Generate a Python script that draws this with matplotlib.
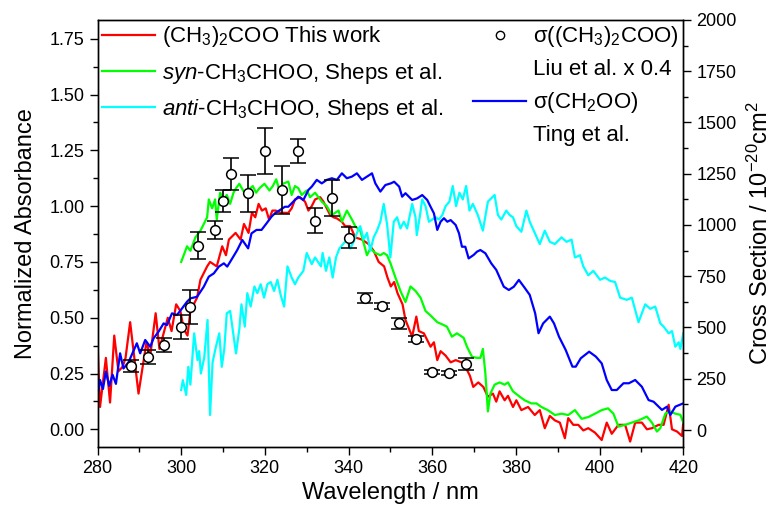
import numpy as np
import matplotlib.pyplot as plt
from matplotlib.lines import Line2D
from matplotlib.ticker import MultipleLocator, FormatStrFormatter

plt.rcParams['font.family'] = ['Liberation Sans', 'DejaVu Sans']
plt.rcParams['mathtext.fontset'] = 'custom'
plt.rcParams['mathtext.rm'] = 'Liberation Sans'
plt.rcParams['mathtext.it'] = 'Liberation Sans:italic'
plt.rcParams['mathtext.default'] = 'regular'

# (CH3)2COO, this work (normalized absorbance)
red_wl = [280.0, 280.6, 282.0, 283.0, 284.0, 285.0, 286.0, 286.7, 287.8, 289.8, 291.7, 292.6, 293.9, 294.8,
          296.8, 297.7, 298.8, 299.8, 300.6, 301.5, 302.2, 303.8, 304.6, 306.2, 306.9, 308.5, 309.8, 310.7,
          311.4, 313.0, 314.2, 315.0, 316.1, 316.9, 317.7, 318.5, 319.3, 320.2, 321.0, 321.8, 322.6, 323.8,
          325.0, 325.6, 326.4, 327.2, 328.4, 329.6, 330.4, 331.2, 332.0, 333.2, 334.0, 335.6, 336.4, 337.2,
          338.4, 339.2, 340.4, 341.6, 343.2, 344.8, 346.0, 347.2, 348.5, 349.3, 350.1, 350.9, 351.7, 352.9,
          353.6, 355.2, 356.2, 356.8, 358.0, 359.6, 360.4, 361.2, 362.0, 363.2, 364.4, 365.6, 367.0, 368.2,
          369.0, 369.8, 371.0, 372.2, 373.3, 374.5, 375.3, 376.1, 377.3, 378.1, 379.3, 380.1, 381.3, 382.9,
          384.5, 385.7, 386.9, 388.1, 389.3, 390.5, 391.7, 392.5, 393.7, 394.9, 396.1, 397.3, 398.9, 400.5,
          401.7, 402.9, 404.5, 406.1, 407.3, 408.5, 410.1, 411.3, 412.5, 414.1, 415.3, 416.5, 417.3, 418.5,
          419.7, 420.0]
red_abs = [0.39, 0.10, 0.32, 0.12, 0.42, 0.26, 0.28, 0.32, 0.48, 0.16, 0.39, 0.33, 0.52, 0.36,
           0.50, 0.44, 0.56, 0.53, 0.45, 0.42, 0.53, 0.59, 0.67, 0.73, 0.75, 0.73, 0.82, 0.78,
           0.85, 0.88, 0.85, 0.92, 0.88, 0.97, 0.95, 1.01, 0.98, 0.99, 0.94, 0.98, 0.98, 0.97,
           0.97, 0.97, 0.99, 1.03, 1.04, 1.02, 0.98, 1.00, 1.03, 1.04, 1.02, 0.96, 0.95, 0.945,
           0.93, 0.91, 0.91, 0.86, 0.85, 0.83, 0.80, 0.75, 0.73, 0.68, 0.64, 0.66, 0.61, 0.56,
           0.49, 0.415, 0.505, 0.44, 0.43, 0.37, 0.39, 0.31, 0.35, 0.33, 0.30, 0.31, 0.30, 0.27,
           0.24, 0.19, 0.21, 0.19, 0.146, 0.16, 0.124, 0.17, 0.13, 0.15, 0.10, 0.13, 0.086, 0.10,
           0.064, 0.086, 0.005, 0.06, 0.04, 0.03, -0.04, 0.05, 0.02, 0.02, -0.005, 0.005, -0.015, -0.048,
           0.03, -0.02, 0.02, 0.02, -0.055, 0.03, 0.03, 0.0, 0.005, 0.02, 0.02, 0.11, 0.0, -0.01,
           -0.03, 0.03]

# syn-CH3CHOO, Sheps et al.
green_wl = [300.0, 301.4, 302.2, 303.4, 304.6, 305.4, 306.2, 306.6, 307.4, 308.1, 308.5, 309.3, 310.1, 310.9,
            311.7, 312.5, 313.1, 313.9, 315.1, 315.9, 317.1, 317.9, 318.7, 319.9, 321.1, 321.9, 322.7, 323.5,
            324.3, 325.6, 326.4, 327.2, 328.0, 328.8, 330.0, 330.8, 332.0, 333.6, 334.8, 336.0, 337.6, 338.4,
            339.6, 340.8, 341.6, 342.8, 344.4, 345.2, 346.4, 347.6, 348.4, 349.2, 350.0, 351.2, 352.4, 353.6,
            354.8, 356.0, 357.2, 358.4, 359.6, 361.2, 362.4, 363.5, 364.7, 365.9, 367.5, 368.3, 369.5, 370.7,
            371.5, 372.1, 372.7, 373.3, 373.9, 374.9, 376.1, 377.3, 378.1, 379.3, 380.9, 382.1, 383.7, 384.9,
            386.1, 387.7, 389.3, 390.9, 392.5, 394.1, 395.7, 397.3, 398.9, 400.5, 402.0, 403.3, 404.5, 406.1,
            407.7, 409.3, 411.3, 412.5, 413.7, 414.5, 415.7, 416.9, 418.1, 419.3, 420.0]
green_abs = [0.75, 0.82, 0.80, 0.86, 0.89, 0.92, 0.95, 1.03, 0.99, 1.03, 0.94, 1.06, 1.03, 1.05,
             1.01, 1.06, 1.08, 1.10, 1.06, 1.07, 1.09, 1.06, 1.08, 1.10, 1.07, 1.09, 1.12, 1.07,
             1.10, 1.11, 1.05, 1.09, 1.08, 1.05, 1.07, 1.04, 1.06, 1.02, 1.00, 0.96, 0.98, 0.93,
             0.98, 0.94, 0.91, 0.89, 0.78, 0.81, 0.79, 0.78, 0.79, 0.78, 0.745, 0.68, 0.62, 0.57,
             0.64, 0.62, 0.59, 0.53, 0.51, 0.48, 0.47, 0.46, 0.415, 0.43, 0.41, 0.37, 0.325, 0.32,
             0.32, 0.36, 0.25, 0.08, 0.16, 0.20, 0.21, 0.20, 0.21, 0.17, 0.146, 0.13, 0.116, 0.116,
             0.10, 0.085, 0.064, 0.07, 0.064, 0.086, 0.047, 0.055, 0.07, 0.086, 0.094, 0.07, 0.012, 0.02,
             0.03, 0.04, 0.057, 0.03, -0.01, 0.005, 0.07, 0.08, 0.07, 0.065, 0.03]

# anti-CH3CHOO, Sheps et al.
cyan_wl = [300.0, 300.4, 301.2, 301.7, 302.2, 303.1, 303.9, 304.3, 304.7, 305.5, 306.3, 306.9, 307.5, 308.3,
           309.1, 309.7, 310.3, 310.9, 311.7, 312.3, 313.1, 313.9, 314.4, 315.2, 315.8, 316.6, 317.5, 318.2,
           319.0, 319.8, 320.6, 321.4, 322.2, 323.0, 323.8, 324.6, 325.4, 326.4, 327.2, 328.0, 329.2, 330.0,
           331.2, 332.0, 333.4, 333.8, 334.6, 335.4, 336.2, 337.0, 337.8, 339.6, 340.4, 341.2, 342.0, 342.8,
           343.6, 344.4, 345.2, 346.0, 346.8, 347.6, 348.4, 349.2, 350.0, 350.8, 351.6, 352.4, 353.2, 354.0,
           355.2, 356.0, 356.3, 357.0, 357.6, 358.4, 359.2, 360.0, 360.8, 361.6, 362.4, 363.2, 364.1, 364.9,
           365.7, 366.5, 367.3, 368.1, 368.9, 369.7, 370.9, 372.1, 373.3, 374.9, 375.7, 376.5, 377.7, 378.5,
           379.3, 380.1, 381.3, 382.5, 383.3, 384.5, 385.7, 386.9, 388.1, 389.3, 390.9, 392.1, 393.3, 394.1,
           395.3, 396.1, 397.3, 398.5, 400.1, 401.3, 402.5, 403.7, 404.9, 406.5, 407.7, 409.3, 410.9, 412.1,
           413.3, 414.5, 415.3, 416.5, 417.3, 418.1, 418.9, 419.3, 420.0]
cyan_abs = [0.176, 0.22, 0.154, 0.28, 0.20, 0.43, 0.31, 0.35, 0.25, 0.32, 0.49, 0.064, 0.30, 0.37,
            0.43, 0.28, 0.36, 0.52, 0.53, 0.45, 0.34, 0.45, 0.56, 0.46, 0.61, 0.55, 0.64, 0.61,
            0.65, 0.59, 0.65, 0.66, 0.62, 0.67, 0.60, 0.55, 0.73, 0.68, 0.65, 0.68, 0.71, 0.79,
            0.74, 0.77, 0.73, 0.79, 0.71, 0.77, 0.68, 0.77, 0.81, 0.85, 0.81, 0.84, 0.88, 0.91,
            0.85, 0.88, 0.80, 0.86, 0.89, 0.93, 1.01, 0.92, 0.77, 0.93, 0.95, 0.90, 0.93, 0.90,
            1.01, 0.95, 0.87, 0.95, 1.03, 1.00, 0.93, 0.94, 0.95, 0.94, 0.96, 1.00, 1.02, 1.09,
            1.00, 1.06, 1.03, 1.09, 0.98, 1.01, 0.96, 0.89, 1.02, 1.05, 0.96, 0.94, 0.98, 0.96,
            0.95, 0.91, 0.885, 0.98, 0.93, 0.88, 0.83, 0.89, 0.84, 0.83, 0.86, 0.84, 0.85, 0.77,
            0.78, 0.73, 0.69, 0.71, 0.67, 0.68, 0.665, 0.66, 0.59, 0.58, 0.59, 0.48, 0.56, 0.54,
            0.55, 0.475, 0.46, 0.43, 0.44, 0.37, 0.39, 0.36, 0.43]

# sigma(CH2OO), Ting et al. (10^-20 cm^2)
blue_wl = [280.0, 280.6, 281.3, 282.0, 282.8, 283.6, 284.4, 285.4, 286.2, 287.4, 289.4, 290.2, 291.4, 292.6,
           293.4, 294.6, 295.8, 296.6, 297.8, 299.0, 300.2, 301.4, 302.2, 303.8, 305.4, 306.6, 307.8, 309.0,
           310.2, 311.0, 312.2, 313.4, 314.6, 316.0, 316.8, 318.0, 319.2, 320.4, 321.6, 322.4, 323.6, 324.8,
           325.6, 326.8, 328.0, 329.2, 330.4, 331.2, 332.4, 333.6, 334.8, 336.0, 337.2, 338.4, 339.6, 340.8,
           342.0, 343.2, 344.4, 345.6, 346.4, 347.6, 348.8, 350.1, 350.9, 352.1, 352.8, 353.6, 355.2, 356.4,
           357.6, 358.8, 359.6, 360.4, 361.2, 362.0, 362.8, 363.6, 364.4, 365.6, 366.4, 367.1, 367.9, 368.7,
           369.9, 370.7, 371.5, 372.7, 374.1, 375.3, 377.1, 378.3, 379.5, 380.7, 381.9, 383.3, 384.6, 385.4,
           386.5, 388.1, 389.1, 390.3, 391.9, 393.5, 394.3, 395.5, 397.5, 399.1, 400.5, 401.7, 402.9, 404.1,
           405.7, 407.0, 408.5, 410.1, 411.7, 412.9, 414.1, 414.9, 416.1, 416.9, 418.1, 420.0]
blue_sig = [162, 244, 200, 285, 215, 270, 225, 374, 300, 330, 423, 374, 439, 406,
            447, 480, 520, 512, 569, 561, 593, 626, 642, 650, 699, 748, 764, 797,
            813, 797, 837, 878, 927, 886, 959, 976, 976, 1008, 1041, 1057, 1073, 1089,
            1089, 1114, 1138, 1122, 1171, 1187, 1220, 1203, 1220, 1228, 1220, 1252, 1228, 1236,
            1252, 1220, 1236, 1252, 1203, 1163, 1195, 1203, 1211, 1187, 1138, 1155, 1122, 1130,
            1146, 1122, 1089, 1057, 976, 1016, 1033, 1016, 1024, 1000, 959, 894, 894, 837,
            854, 870, 878, 862, 813, 781, 699, 683, 699, 732, 699, 659, 569, 472,
            520, 553, 520, 455, 390, 309, 309, 350, 382, 358, 325, 244, 195, 195,
            228, 228, 244, 211, 146, 138, 114, 98, 114, 73, 114, 130]

# sigma((CH3)2COO), Liu et al. x 0.4
liu_wl = [288, 292, 296, 300, 302, 304, 308, 310, 312, 316, 320, 324, 328, 332, 336, 340, 344, 348, 352,
          356, 360, 364, 368]
liu_sig = [312, 355, 415, 504, 601, 898, 976, 1117, 1250, 1155, 1362, 1171, 1362, 1021, 1133, 938, 645,
           606, 520, 442, 285, 280, 322]
liu_err = [29, 34, 36, 59, 83, 66, 42, 55, 79, 91, 112, 118, 59, 60, 88, 50, 24, 15, 27,
           15, 10, 10, 30]

fig = plt.figure(figsize=(7.72, 5.15), dpi=100)
ax1 = fig.add_axes([0.1263, 0.1326, 0.7588, 0.8286])
ax2 = ax1.twinx()

ax1.plot(red_wl, red_abs, color='#ff0000', lw=1.6, label='(CH$_3$)$_2$COO This work')
ax1.plot(green_wl, green_abs, color='#00ff00', lw=1.6, label='$\\mathit{syn}$-CH$_3$CHOO, Sheps et al.')
ax1.plot(cyan_wl, cyan_abs, color='#00ffff', lw=1.6, label='$\\mathit{anti}$-CH$_3$CHOO, Sheps et al.')

ax2.plot(blue_wl, blue_sig, color='#0000ff', lw=1.6)
ax2.errorbar(liu_wl, liu_sig, yerr=liu_err, fmt='o', mfc='white', mec='black', ms=7, mew=1.1,
             ecolor='black', elinewidth=1.2, capsize=6, capthick=1.2, zorder=5)

ax1.set_xlim(280, 420)
ax1.set_ylim(-0.078, 1.834)
ax2.set_ylim(-81.5, 2000)

ax1.xaxis.set_major_locator(MultipleLocator(20))
ax1.xaxis.set_minor_locator(MultipleLocator(10))
ax1.yaxis.set_major_locator(MultipleLocator(0.25))
ax1.yaxis.set_minor_locator(MultipleLocator(0.125))
ax1.yaxis.set_major_formatter(FormatStrFormatter('%.2f'))
ax2.yaxis.set_major_locator(MultipleLocator(250))
ax2.yaxis.set_minor_locator(MultipleLocator(125))

for ax in (ax1, ax2):
    for sp in ax.spines.values():
        sp.set_linewidth(1.0)
    ax.tick_params(which='major', direction='out', length=6, width=1.0, labelsize=13)
    ax.tick_params(which='minor', direction='out', length=3.5, width=1.0)
ax1.tick_params(which='both', top=False, right=False)
ax2.tick_params(which='both', left=False, top=False, right=True)

ax1.set_xlabel('Wavelength / nm', fontsize=17)
ax1.set_ylabel('Normalized Absorbance', fontsize=17, labelpad=9)
ax2.set_ylabel('Cross Section / 10$^{-20}$cm$^2$', fontsize=17, labelpad=8)

ax1.legend(loc='upper left', frameon=False, fontsize=16, handlelength=2.4, handletextpad=0.3,
           labelspacing=0.5, borderaxespad=0.1, borderpad=0.1)

blank = Line2D([], [], color='none')
circ = Line2D([], [], ls='none', marker='o', mfc='white', mec='black', ms=6, mew=1.0)
bline = Line2D([], [], color='#0000ff', lw=1.6)
ax2.legend([circ, blank, bline, blank],
           ['σ((CH$_3$)$_2$COO)', 'Liu et al. x 0.4', 'σ(CH$_2$OO)', 'Ting et al.'],
           loc='upper right', frameon=False, fontsize=16, handlelength=2.4, handletextpad=0.3,
           labelspacing=0.45, borderaxespad=0.1, borderpad=0.1, numpoints=1)

fig.savefig('out.png', dpi=100)
